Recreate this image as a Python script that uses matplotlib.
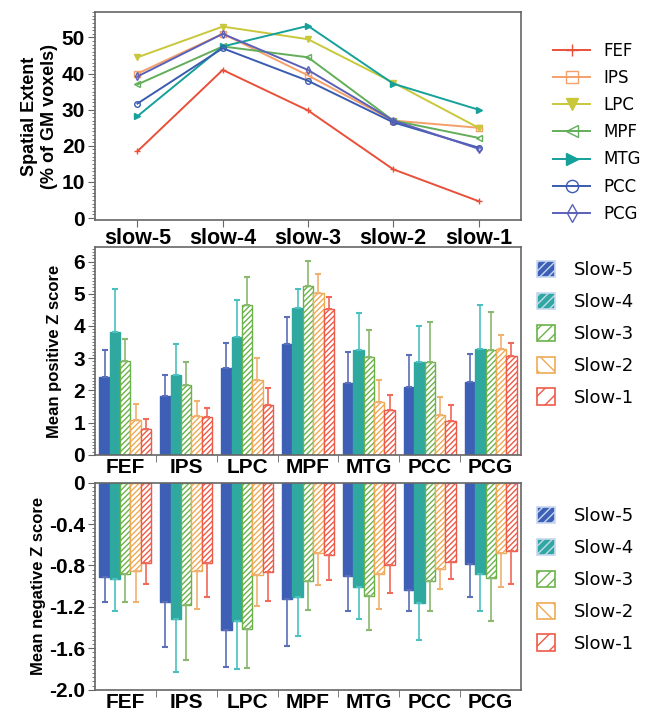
import numpy as np
import matplotlib
matplotlib.use("Agg")
import matplotlib.pyplot as plt
from matplotlib.patches import Patch
from matplotlib.ticker import MultipleLocator, FuncFormatter

# ---- data ----
bands = ["slow-5", "slow-4", "slow-3", "slow-2", "slow-1"]
regions = ["FEF", "IPS", "LPC", "MPF", "MTG", "PCC", "PCG"]

extent_FEF = [18.5, 41.0, 29.8, 13.5, 4.7]
extent_IPS = [40.0, 51.0, 39.5, 27.0, 25.0]
extent_LPC = [44.5, 53.0, 49.5, 37.5, 25.0]
extent_MPF = [37.0, 47.5, 44.5, 27.0, 22.2]
extent_MTG = [28.2, 47.5, 53.2, 37.2, 30.0]
extent_PCC = [31.7, 47.0, 38.0, 26.5, 19.5]
extent_PCG = [39.2, 51.0, 41.0, 27.0, 19.2]

slow_labels = ["Slow-5", "Slow-4", "Slow-3", "Slow-2", "Slow-1"]

pos_mean = [
    [2.43, 1.84, 2.71, 3.43, 2.24, 2.09, 2.27],   # slow-5
    [3.82, 2.47, 3.66, 4.56, 3.24, 2.89, 3.28],   # slow-4
    [2.92, 2.16, 4.65, 5.24, 3.03, 2.87, 3.24],   # slow-3
    [1.09, 1.21, 2.31, 5.02, 1.65, 1.23, 3.28],   # slow-2
    [0.81, 1.16, 1.54, 4.53, 1.38, 1.05, 3.08],   # slow-1
]
pos_top = [
    [3.24, 2.47, 3.48, 4.27, 3.19, 3.11, 3.14],
    [5.16, 3.43, 4.82, 5.16, 4.40, 4.00, 4.65],
    [3.61, 2.87, 5.52, 6.03, 3.87, 4.13, 4.44],
    [1.59, 1.68, 3.01, 5.60, 2.31, 1.78, 3.71],
    [1.10, 1.46, 2.06, 4.90, 1.86, 1.54, 3.46],
]
neg_mean = [
    [-0.91, -1.15, -1.42, -1.12, -0.90, -1.04, -0.79],
    [-0.93, -1.32, -1.34, -1.10, -1.01, -1.16, -0.88],
    [-0.88, -1.18, -1.41, -0.95, -1.09, -0.95, -0.92],
    [-0.85, -0.85, -0.89, -0.68, -0.88, -0.83, -0.68],
    [-0.78, -0.78, -0.86, -0.70, -0.80, -0.77, -0.66],
]
neg_bottom = [
    [-1.15, -1.59, -1.78, -1.58, -1.24, -1.24, -1.10],
    [-1.24, -1.83, -1.80, -1.48, -1.32, -1.52, -1.24],
    [-1.15, -1.71, -1.79, -1.23, -1.42, -1.24, -1.34],
    [-1.15, -1.22, -1.19, -0.99, -1.22, -1.03, -1.01],
    [-0.98, -1.10, -1.14, -0.94, -1.07, -0.93, -0.98],
]

# ---- styles ----
line_styles = [
    ("FEF", extent_FEF, "#e8503a", "+", True),
    ("IPS", extent_IPS, "#f4a06a", "s", False),
    ("LPC", extent_LPC, "#c9c73a", "v", True),
    ("MPF", extent_MPF, "#62ae5a", "<", False),
    ("MTG", extent_MTG, "#15a09a", ">", True),
    ("PCC", extent_PCC, "#3a5bb0", "o", False),
    ("PCG", extent_PCG, "#5b60b8", "d", False),
]
bar_face = ["#3d5fb6", "#2fa9a0", "white", "white", "white"]
bar_edge = ["#3d5fb6", "#2fa9a0", "#6cb24a", "#eeaa55", "#ee5a48"]
bar_hatch = [None, None, "//////", "//////", "//////"]
err_col = ["#5a6fb8", "#4cc0c0", "#8ab870", "#f0b070", "#ef6a5a"]
leg_hatch = ["////", "////", "///", "\\\\", "//"]

plt.rcParams["font.family"] = ["Liberation Sans", "DejaVu Sans"]
plt.rcParams["hatch.linewidth"] = 1.0
frame = "#666666"

fig = plt.figure(figsize=(6.45, 7.14), dpi=100)

def style_frame(ax):
    for s in ax.spines.values():
        s.set_color(frame)
        s.set_linewidth(1.2)
    ax.tick_params(axis="y", which="major", length=5, color=frame, labelsize=15, pad=2)
    ax.tick_params(axis="y", which="minor", length=2.5, color=frame)
    for t in ax.get_yticklabels():
        t.set_fontweight("bold")

# ---- top: spatial extent ----
ax1 = fig.add_axes([0.147, 0.692, 0.661, 0.291])
x = np.arange(len(bands))
for name, vals, col, mk, filled in line_styles:
    ax1.plot(x, vals, color=col, lw=1.4, marker=mk, ms=4,
             mfc=col if filled else "none", mec=col, label=name)
ax1.set_xlim(-0.5, 4.5)
ax1.set_ylim(-0.5, 57)
ax1.set_xticks(x)
ax1.set_xticklabels(bands, fontsize=15.5, fontweight="bold")
ax1.yaxis.set_major_locator(MultipleLocator(10))
ax1.yaxis.set_minor_locator(MultipleLocator(1))
ax1.tick_params(axis="x", length=5, color=frame, pad=1)
style_frame(ax1)
ax1.set_ylabel("Spatial Extent\n(% of GM voxels)", fontsize=13, fontweight="bold", labelpad=3)
ax1.legend(loc="upper left", bbox_to_anchor=(1.04, 0.93), frameon=False,
           handlelength=2.2, labelspacing=0.55, markerscale=2.2,
           prop={"family": "DejaVu Sans", "size": 12})

# ---- bar panels ----
gx = np.arange(len(regions))
w = 0.17

def leg_handles():
    return [Patch(facecolor=bar_face[j], edgecolor=bar_edge[j] if j >= 2 else "#c8d8f0",
                  hatch=leg_hatch[j], label=slow_labels[j], lw=1.2) for j in range(5)]

def bar_axis(ax, top):
    ax.set_xlim(-0.5, 6.5)
    ax.set_xticks(gx)
    ax.set_xticklabels(regions, fontsize=15, fontweight="bold")
    ax.tick_params(axis="x", which="major", length=0, pad=2)
    ax.set_xticks(gx[:-1] + 0.5, minor=True)
    ax.tick_params(axis="x", which="minor", length=5, color=frame)
    style_frame(ax)
    ax.legend(handles=leg_handles(), loc="upper left", bbox_to_anchor=(1.0, top),
              frameon=False, handlelength=1.0, handleheight=1.0, labelspacing=0.75,
              handletextpad=1.0, prop={"family": "DejaVu Sans", "size": 13})

ax2 = fig.add_axes([0.147, 0.363, 0.661, 0.291])
for j in range(5):
    xs = gx + (j - 2) * w
    ax2.bar(xs, pos_mean[j], width=w, color=bar_face[j], edgecolor=bar_edge[j],
            hatch=bar_hatch[j], lw=1.0)
    up = np.array(pos_top[j]) - np.array(pos_mean[j])
    ax2.errorbar(xs, pos_mean[j], yerr=[np.zeros(7), up], fmt="none",
                 ecolor=err_col[j], elinewidth=1.2, capsize=2.5, capthick=1.5)
ax2.set_ylim(0, 6.45)
ax2.yaxis.set_major_locator(MultipleLocator(1))
ax2.yaxis.set_minor_locator(MultipleLocator(0.1))
bar_axis(ax2, 1.01)
ax2.set_ylabel("Mean positive Z score", fontsize=12, fontweight="bold", labelpad=8)

ax3 = fig.add_axes([0.147, 0.034, 0.661, 0.290])
for j in range(5):
    xs = gx + (j - 2) * w
    ax3.bar(xs, neg_mean[j], width=w, color=bar_face[j], edgecolor=bar_edge[j],
            hatch=bar_hatch[j], lw=1.0)
    dn = np.array(neg_mean[j]) - np.array(neg_bottom[j])
    ax3.errorbar(xs, neg_mean[j], yerr=[dn, np.zeros(7)], fmt="none",
                 ecolor=err_col[j], elinewidth=1.2, capsize=2.5, capthick=1.5)
ax3.set_ylim(-2.0, 0)
ax3.yaxis.set_major_locator(MultipleLocator(0.4))
ax3.yaxis.set_minor_locator(MultipleLocator(0.04))
ax3.yaxis.set_major_formatter(FuncFormatter(lambda v, p: "0" if abs(v) < 1e-9 else f"{v:.1f}"))
bar_axis(ax3, 0.96)
ax3.set_ylabel("Mean negative Z score", fontsize=12, fontweight="bold", labelpad=2)

fig.savefig("out.png", dpi=100)
